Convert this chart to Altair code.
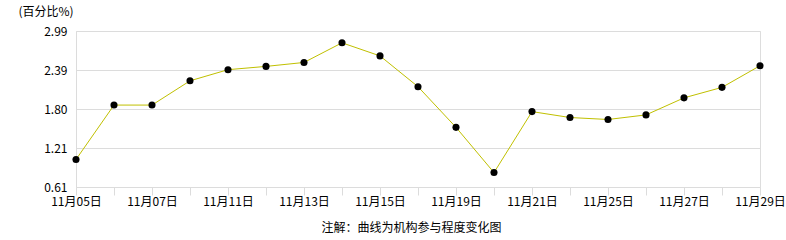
import json
import altair as alt
import pandas as pd

dates = ["11月05日", "11月06日", "11月07日", "11月08日", "11月11日", "11月12日",
         "11月13日", "11月14日", "11月15日", "11月18日", "11月19日", "11月20日",
         "11月21日", "11月22日", "11月25日", "11月26日", "11月27日", "11月28日",
         "11月29日"]
values = [1.03, 1.86, 1.86, 2.23, 2.40, 2.45, 2.51, 2.81, 2.61, 2.14, 1.52,
          0.83, 1.76, 1.67, 1.64, 1.71, 1.97, 2.13, 2.46]
shown_labels = dates[::2]
y_ticks = [0.61, 1.205, 1.80, 2.395, 2.99]
y_tick_labels = ["0.61", "1.21", "1.80", "2.39", "2.99"]

df = pd.DataFrame({"date": dates, "value": values})

FONT = "Noto Sans CJK SC"
GRID = "#dcdcdc"

x_enc = alt.X(
    "date:N",
    sort=dates,
    scale=alt.Scale(type="point", padding=0),
    axis=alt.Axis(
        title="注解：曲线为机构参与程度变化图",
        titleFont=FONT, titleFontSize=12, titleFontWeight="normal",
        titleColor="black", titleX=335, titleY=40, titleBaseline="middle",
        titleAlign="center",
        labelAngle=0, labelFont=FONT, labelFontSize=12, labelColor="black",
        labelOverlap=False, labelPadding=1,
        labelExpr="indexof(" + json.dumps(shown_labels, ensure_ascii=False)
                  + ", datum.value) >= 0 ? datum.value : ''",
        tickSize=8, tickColor=GRID, domainColor=GRID, grid=False,
    ),
)
y_enc = alt.Y(
    "value:Q",
    scale=alt.Scale(domain=[0.61, 2.99], nice=False, zero=False),
    axis=alt.Axis(
        values=y_ticks, tickCount=10, labelOverlap=False,
        labelExpr=json.dumps(y_tick_labels) + "[indexof("
                  + json.dumps(y_ticks) + ", datum.value)]",
        title="(百分比%)", titleAngle=0, titleAlign="left",
        titleBaseline="middle", titleX=-58, titleY=-20,
        titleFont=FONT, titleFontSize=12, titleFontWeight="normal",
        titleColor="black",
        labelFont=FONT, labelFontSize=12, labelColor="black",
        labelPadding=9, ticks=False, domainColor=GRID,
        gridColor=GRID,
    ),
)

line = alt.Chart(df).mark_line(color="#c0c000", strokeWidth=1).encode(x=x_enc, y=y_enc)
pts = alt.Chart(df).mark_point(filled=True, color="black", size=50, opacity=1).encode(
    x="date:N", y="value:Q")

chart = alt.layer(line, pts).properties(
    width=684, height=156,
    autosize=alt.AutoSizeParams(type="none"),
    padding={"left": 76, "top": 31, "right": 26, "bottom": 53},
).configure_view(stroke=GRID).configure(background="white")

chart.save("out.html", embed_options={"renderer": "svg", "actions": False})
